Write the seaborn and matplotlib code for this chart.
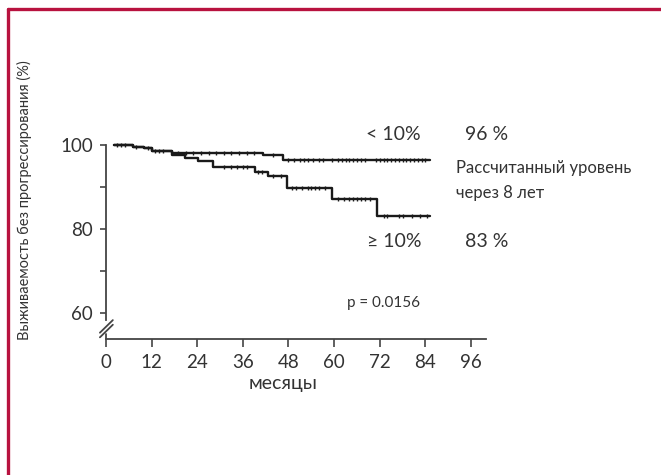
import numpy as np
import pandas as pd
import matplotlib
matplotlib.use("Agg")
import matplotlib.pyplot as plt
from matplotlib.lines import Line2D
from matplotlib.ticker import MultipleLocator
import seaborn as sns

# ---------------- data ----------------
t_low = [2, 7, 10, 12, 17.3, 41.4, 46.6, 85.2]
s_low = [100, 99.5, 99.2, 98.6, 98.0, 97.5, 96.4, 96.4]
t_high = [2, 7, 10, 12, 17.3, 20.8, 24.3, 28.2, 39.2, 42.7, 47.5, 59.4, 71.2, 85.2]
s_high = [100, 99.5, 99.2, 98.6, 97.6, 96.8, 96.2, 94.8, 93.6, 92.5, 89.8, 87.1, 83.2, 83.2]
cens_low = [3, 4, 5, 8, 11, 13, 14, 15, 19, 21, 23, 25, 27, 29, 31, 33, 35, 37, 39, 44,
            48, 49.5, 51, 52, 53, 54.5, 56, 57, 59.5, 61, 62, 63, 64, 65, 66, 67, 68,
            71, 72, 73, 74, 75, 76, 77, 78, 79, 80, 81, 82, 83, 84]
cens_high = [31, 33, 34.5, 36, 37, 40, 41, 44, 46, 49, 50, 51.5, 53, 54, 55, 56, 57.5,
             61, 62.5, 64, 65, 66, 67, 68, 69.5, 73, 74, 77, 78, 80.5, 82.5, 84.5]
x_ticks = [0, 12, 24, 36, 48, 60, 72, 84, 96]
y_ticks = [60, 80, 100]
group_labels = ["< 10%", "\u2265 10%"]
rates = ["96 %", "83 %"]
note_lines = ["Рассчитанный уровень", "через 8 лет"]
p_text = "p = 0.0156"
xlabel = "месяцы"
ylabel = "Выживаемость без прогрессирования (%)"

# ---------------- style ----------------
sns.set_style("ticks")
plt.rcParams["font.family"] = ["Lato", "Open Sans", "DejaVu Sans"]

fig = plt.figure(figsize=(6.61, 4.75), dpi=100)
ax = fig.add_axes([106 / 661, 136 / 475, 380.2 / 661, 198.2 / 475])

line_col = "#1a1a1a"
axis_col = "#444444"
text_col = "#333333"


def step_df(t, s):
    return pd.DataFrame({"t": t, "s": s})


def cens_df(t, s, c):
    t = np.asarray(t)
    s = np.asarray(s)
    idx = np.searchsorted(t, c, side="right") - 1
    return pd.DataFrame({"t": c, "s": s[idx]})


for t, s, c in [(t_low, s_low, cens_low), (t_high, s_high, cens_high)]:
    sns.lineplot(data=step_df(t, s), x="t", y="s", ax=ax, color=line_col,
                 linewidth=1.7, drawstyle="steps-post", estimator=None, sort=False)
    sns.scatterplot(data=cens_df(t, s, c), x="t", y="s", ax=ax, marker="|",
                    s=9, color=line_col, linewidth=1.0, zorder=3)

ax.set_xlim(0, 100)
ax.set_ylim(53.8, 101)
ax.set_xticks(x_ticks)
ax.set_yticks(y_ticks)
ax.yaxis.set_minor_locator(MultipleLocator(10))
sns.despine(ax=ax)
ax.spines["left"].set_bounds(58.3, 100)
for sp in ["left", "bottom"]:
    ax.spines[sp].set_color(axis_col)
    ax.spines[sp].set_linewidth(1.3)
ax.tick_params(axis="both", which="major", labelsize=13.5, colors=axis_col,
               labelcolor=text_col, width=1.2)
ax.tick_params(axis="x", length=5.5, pad=5)
ax.tick_params(axis="y", length=4.5, pad=5)
ax.tick_params(axis="y", which="minor", length=4.5, width=1.2, colors=axis_col)

# axis break decoration
ax.plot([0, 0], [53.8, 55.0], color=axis_col, lw=1.3, clip_on=False)
ax.plot([-1.6, 1.8], [55.3, 58.3], color=axis_col, lw=1.3, clip_on=False)
ax.plot([-1.6, 1.8], [54.2, 57.2], color=axis_col, lw=1.3, clip_on=False)

ax.set_xlabel(xlabel, fontsize=14, color=text_col)
ax.xaxis.set_label_coords(0.466, -0.18)
ax.set_ylabel(ylabel, fontsize=10.5, color=text_col)
ax.yaxis.set_label_coords(-0.195, 0.70)

# annotations
ax.text(75.7, 102.4, group_labels[0], fontsize=14, color=text_col, ha="center", va="center")
ax.text(75.7, 77.1, group_labels[1], fontsize=14, color=text_col, ha="center", va="center")
ax.text(100.2, 102.4, rates[0], fontsize=14, color=text_col, ha="center", va="center")
ax.text(100.2, 76.9, rates[1], fontsize=14, color=text_col, ha="center", va="center")
ax.text(92.1, 94.5, note_lines[0], fontsize=12, color=text_col, ha="left", va="center")
ax.text(92.1, 88.6, note_lines[1], fontsize=12, color=text_col, ha="left", va="center")
ax.text(73.1, 62.4, p_text, fontsize=11, color=text_col, ha="center", va="center")

# crimson frame (top and left edges)
frame_col = "#B8123F"
fig.add_artist(Line2D([7.5 / 661, 1.0], [1 - 8.5 / 475, 1 - 8.5 / 475],
                      transform=fig.transFigure, color=frame_col, lw=2.4))
fig.add_artist(Line2D([7.5 / 661, 7.5 / 661], [0, 1 - 8.5 / 475],
                      transform=fig.transFigure, color=frame_col, lw=2.4))

fig.savefig("out.png", dpi=100)
